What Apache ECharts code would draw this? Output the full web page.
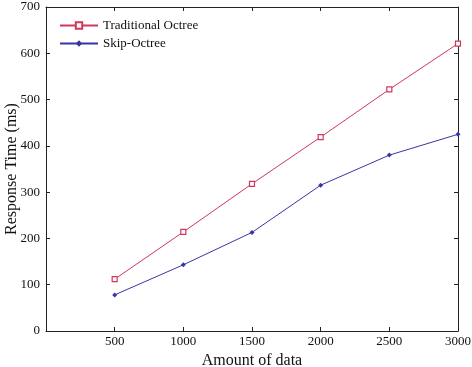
<!DOCTYPE html>
<html>
<head>
<meta charset="utf-8">
<script src="https://cdn.jsdelivr.net/npm/echarts@6/dist/echarts.min.js"></script>
<style>html,body{margin:0;padding:0;background:#fff}#c{width:472px;height:367px}</style>
</head>
<body>
<div id="c"></div>
<script>
const amounts = [500, 1000, 1500, 2000, 2500, 3000];
const traditional = [112, 214, 318, 419, 522, 621];
const skip = [78, 143, 213, 315, 380, 425];

const font = 'Liberation Serif';
const axisLine = { show: true, onZero: false, lineStyle: { color: '#222', width: 1 } };
const ticks = { show: true, inside: true, length: 4, lineStyle: { color: '#222' } };

const chart = echarts.init(document.getElementById('c'));
chart.setOption({
  animation: false,
  backgroundColor: '#fff',
  grid: { left: 46, right: 14, top: 7, bottom: 36, containLabel: false, outerBoundsMode: 'none' },
  legend: {
    orient: 'vertical', left: 54, top: 14, itemWidth: 38, itemHeight: 8, itemGap: 5,
    textStyle: { fontFamily: font, fontSize: 13, color: '#111' },
    data: ['Traditional Octree', 'Skip-Octree']
  },
  xAxis: [
    {
      type: 'value', min: 0, max: 3000, interval: 500,
      name: 'Amount of data', nameLocation: 'middle', nameGap: 22,
      nameTextStyle: { fontFamily: font, fontSize: 16, color: '#111' },
      axisLine: axisLine, axisTick: ticks, splitLine: { show: false },
      axisLabel: { fontFamily: font, fontSize: 13, color: '#111', margin: 4,
        formatter: v => v === 0 ? '' : v }
    },
    {
      type: 'value', position: 'top', min: 0, max: 3000, interval: 500,
      axisLine: axisLine, axisTick: ticks, axisLabel: { show: false }, splitLine: { show: false }
    }
  ],
  yAxis: [
    {
      type: 'value', min: 0, max: 700, interval: 100,
      name: 'Response Time (ms)', nameLocation: 'middle', nameGap: 26, nameMoveOverlap: false,
      nameTextStyle: { fontFamily: font, fontSize: 16, color: '#111' },
      axisLine: axisLine, axisTick: ticks, splitLine: { show: false },
      axisLabel: { fontFamily: font, fontSize: 13, color: '#111', margin: 6 }
    },
    {
      type: 'value', position: 'right', min: 0, max: 700, interval: 100,
      axisLine: axisLine, axisTick: ticks, axisLabel: { show: false }, splitLine: { show: false }
    }
  ],
  series: [
    {
      name: 'Traditional Octree', type: 'line',
      data: amounts.map((a, i) => [a, traditional[i]]),
      symbol: 'rect', symbolSize: 5,
      lineStyle: { color: '#d0385a', width: 1 },
      itemStyle: { color: '#fff', borderColor: '#d0385a', borderWidth: 1.2 }
    },
    {
      name: 'Skip-Octree', type: 'line',
      data: amounts.map((a, i) => [a, skip[i]]),
      symbol: 'diamond', symbolSize: 5,
      lineStyle: { color: '#3636a8', width: 1 },
      itemStyle: { color: '#3636a8' }
    }
  ]
});
</script>
</body>
</html>
